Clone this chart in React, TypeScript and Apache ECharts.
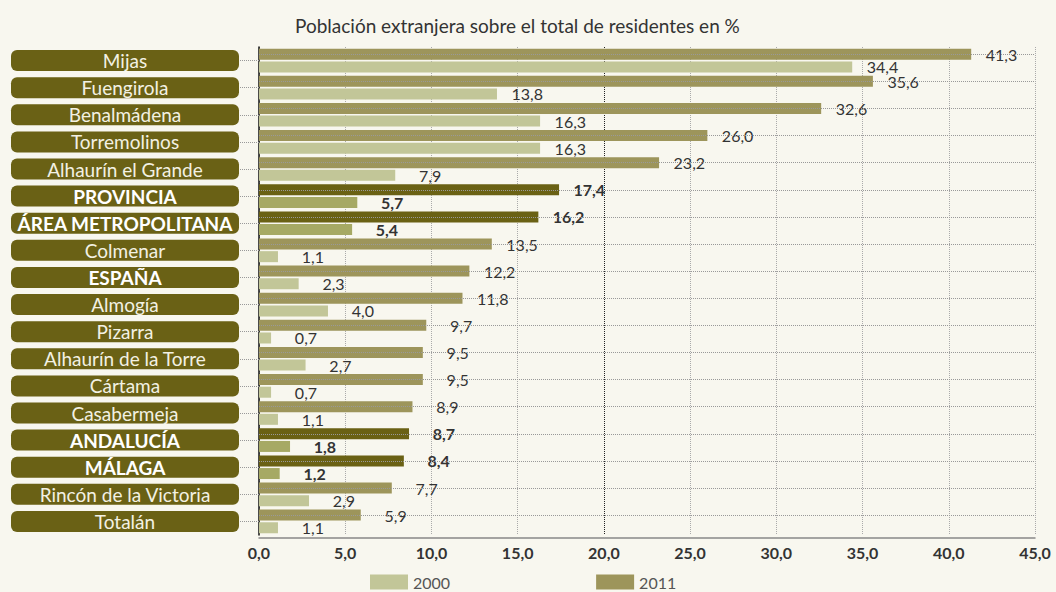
import React, { useEffect, useRef } from "react";
import * as echarts from "echarts";

const categories = [
  "Mijas",
  "Fuengirola",
  "Benalmádena",
  "Torremolinos",
  "Alhaurín el Grande",
  "PROVINCIA",
  "ÁREA METROPOLITANA",
  "Colmenar",
  "ESPAÑA",
  "Almogía",
  "Pizarra",
  "Alhaurín de la Torre",
  "Cártama",
  "Casabermeja",
  "ANDALUCÍA",
  "MÁLAGA",
  "Rincón de la Victoria",
  "Totalán",
];
const values2011 = [41.3, 35.6, 32.6, 26.0, 23.2, 17.4, 16.2, 13.5, 12.2, 11.8, 9.7, 9.5, 9.5, 8.9, 8.7, 8.4, 7.7, 5.9];
const values2000 = [34.4, 13.8, 16.3, 16.3, 7.9, 5.7, 5.4, 1.1, 2.3, 4.0, 0.7, 2.7, 0.7, 1.1, 1.8, 1.2, 2.9, 1.1];
const highlightedRows = ["PROVINCIA", "ÁREA METROPOLITANA", "ANDALUCÍA", "MÁLAGA"];
const boldLabels = ["PROVINCIA", "ÁREA METROPOLITANA", "ESPAÑA", "ANDALUCÍA", "MÁLAGA"];
const seriesNames = ["2000", "2011"];
const titleText = "Población extranjera sobre el total de residentes en %";

const FONT = "Lato, 'Open Sans', sans-serif";
const BG = "#f8f7ef";
const C2011 = "#9d955b";
const C2000 = "#c2c698";
const C2011H = "#6a6114";
const C2000H = "#a6a964";
const BOX = "#6a6115";

const fmt = (v: number) => v.toFixed(1).replace(".", ",");

export default function App() {
  const ref = useRef<HTMLDivElement>(null);
  useEffect(() => {
    document.body.style.margin = "0";
    document.body.style.background = BG;
    if (!ref.current) return;
    const chart = echarts.init(ref.current, undefined, { renderer: "svg" });

    const makeData = (vals: number[], hiColor: string) =>
      vals.map((v, i) => {
        const hi = highlightedRows.includes(categories[i]);
        return {
          value: v,
          itemStyle: hi ? { color: hiColor } : undefined,
          label: hi ? { fontWeight: "bold" } : undefined,
        };
      });

    const labelCommon = {
      show: true,
      position: "right",
      distance: 46,
      align: "right",
      fontFamily: FONT,
      fontSize: 16,
      color: "#333",
      formatter: (p: any) => fmt(p.value),
    };

    chart.setOption({
      animation: false,
      backgroundColor: BG,
      title: {
        text: titleText,
        left: 290,
        top: 11,
        textStyle: { fontFamily: FONT, fontSize: 19, fontWeight: "normal", color: "#333" },
      },
      legend: {
        data: seriesNames,
        left: 370,
        top: 574,
        padding: 0,
        icon: "rect",
        itemWidth: 38,
        itemHeight: 15,
        itemGap: 146,
        textStyle: { fontFamily: FONT, fontSize: 16, color: "#555" },
      },
      grid: { left: 259, right: 21, top: 47, bottom: 57, containLabel: false },
      xAxis: {
        type: "value",
        min: 0,
        max: 45,
        interval: 5,
        offset: 3,
        axisLine: { show: true, lineStyle: { color: "#888", width: 1.5 } },
        axisTick: { show: false },
        axisLabel: {
          margin: 6,
          fontFamily: FONT,
          fontSize: 16,
          fontWeight: "bold",
          color: "#333",
          formatter: (v: number) => fmt(v),
        },
        splitLine: {
          show: true,
          lineStyle: {
            type: "dotted",
            width: 1,
            color: ["#aaa", "#aaa", "#aaa", "#aaa", "#222", "#aaa", "#aaa", "#aaa", "#aaa", "#aaa"],
          },
        },
      },
      yAxis: {
        type: "category",
        data: categories,
        inverse: true,
        axisLine: { show: true, lineStyle: { color: "#111", width: 1.5 } },
        axisTick: {
          show: true,
          alignWithLabel: true,
          length: 19,
          lineStyle: { type: "dotted", color: "#999", width: 1 },
        },
        axisLabel: {
          margin: 20,
          formatter: (v: string) => (boldLabels.includes(v) ? `{b|${v}}` : `{n|${v}}`),
          rich: {
            n: {
              width: 228,
              height: 21,
              lineHeight: 21,
              align: "center",
              backgroundColor: BOX,
              borderRadius: 6,
              color: "#f3f1e3",
              fontFamily: FONT,
              fontSize: 19,
            },
            b: {
              width: 228,
              height: 21,
              lineHeight: 21,
              align: "center",
              backgroundColor: BOX,
              borderRadius: 6,
              color: "#ffffff",
              fontFamily: FONT,
              fontSize: 19,
              fontWeight: "bold",
            },
          },
        },
        splitLine: { show: false },
      },
      series: [
        {
          name: "2011",
          type: "bar",
          barWidth: 11,
          barGap: "15%",
          itemStyle: { color: C2011 },
          label: labelCommon,
          data: makeData(values2011, C2011H),
          markLine: {
            silent: true,
            symbol: ["none", "none"],
            label: { show: false },
            lineStyle: { type: "dotted", color: "#999", width: 1 },
            data: categories.map((c) => ({ yAxis: c })),
          },
        },
        {
          name: "2000",
          type: "bar",
          barWidth: 11,
          barGap: "15%",
          itemStyle: { color: C2000 },
          label: labelCommon,
          data: makeData(values2000, C2000H),
        },
      ],
    });
    return () => chart.dispose();
  }, []);
  return <div ref={ref} style={{ width: 1056, height: 592, background: BG }} />;
}
